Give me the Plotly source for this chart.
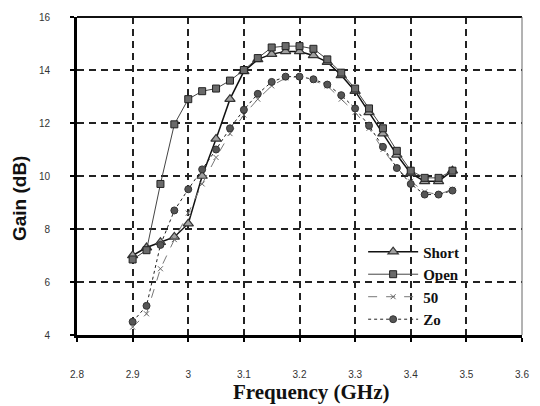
import plotly.graph_objects as go

freq = [2.9, 2.925, 2.95, 2.975, 3.0, 3.025, 3.05, 3.075, 3.1, 3.125, 3.15, 3.175,
        3.2, 3.225, 3.25, 3.275, 3.3, 3.325, 3.35, 3.375, 3.4, 3.425, 3.45, 3.475]

gain_short = [7.0, 7.3, 7.5, 7.7, 8.2, 10.0, 11.4, 12.9, 13.95, 14.4, 14.6, 14.7,
              14.7, 14.55, 14.3, 13.8, 13.2, 12.4, 11.6, 10.8, 10.1, 9.8, 9.8, 10.2]
gain_open = [6.85, 7.2, 9.7, 11.95, 12.9, 13.2, 13.3, 13.6, 14.0, 14.45, 14.85, 14.9,
             14.9, 14.8, 14.4, 13.9, 13.3, 12.55, 11.8, 10.95, 10.2, 9.93, 9.93, 10.2]
gain_50 = [4.3, 4.8, 6.5, 7.6, 8.6, 9.7, 10.7, 11.6, 12.3, 12.9, 13.4, 13.7,
           13.75, 13.6, 13.4, 12.9, 12.4, 11.8, 11.0, 10.3, 9.8, 9.4, 9.3, 9.5]
gain_zo = [4.5, 5.1, 7.4, 8.7, 9.5, 10.25, 11.0, 11.8, 12.5, 13.1, 13.55, 13.75,
           13.75, 13.65, 13.45, 13.05, 12.55, 11.9, 11.1, 10.3, 9.7, 9.3, 9.3, 9.45]

x_ticks = [2.8, 2.9, 3.0, 3.1, 3.2, 3.3, 3.4, 3.5, 3.6]
x_tick_labels = ["2.8", "2.9", "3", "3.1", "3.2", "3.3", "3.4", "3.5", "3.6"]
y_ticks = [4, 6, 8, 10, 12, 14, 16]
y_tick_labels = ["4", "6", "8", "10", "12", "14", "16"]

fig = go.Figure()
fig.add_trace(go.Scatter(
    x=freq, y=gain_short, name="<b>Short</b>", mode="lines+markers",
    line=dict(color="#111111", width=1.5),
    marker=dict(symbol="triangle-up", size=9, color="#a0a0a0",
                line=dict(color="#333333", width=1.2))))
fig.add_trace(go.Scatter(
    x=freq, y=gain_open, name="<b>Open</b>", mode="lines+markers",
    line=dict(color="#444444", width=1),
    marker=dict(symbol="square", size=7, color="#6a6a6a",
                line=dict(color="#222222", width=1))))
fig.add_trace(go.Scatter(
    x=freq, y=gain_50, name="<b>50</b>", mode="lines+markers",
    line=dict(color="#777777", width=1, dash="dash"),
    marker=dict(symbol="x-thin", size=5, color="#666666",
                line=dict(color="#666666", width=1))))
fig.add_trace(go.Scatter(
    x=freq, y=gain_zo, name="<b>Zo</b>", mode="lines+markers",
    line=dict(color="#222222", width=1, dash="dot"),
    marker=dict(symbol="circle", size=7, color="#555555",
                line=dict(color="#333333", width=1))))

fig.update_layout(
    width=540, height=406,
    margin=dict(l=77, r=11, t=12, b=71),
    paper_bgcolor="white", plot_bgcolor="white",
    font=dict(family="Arial", color="#222222"),
    showlegend=True,
    legend=dict(x=0.643, y=0.313, xanchor="left", yanchor="top",
                bgcolor="rgba(255,255,255,0)", borderwidth=0,
                font=dict(family="Liberation Serif", size=15, color="#111111"),
                tracegroupgap=0, itemwidth=50),
    xaxis=dict(range=[2.8, 3.6], tickvals=x_ticks, ticktext=x_tick_labels,
               showgrid=True, gridcolor="#222222", gridwidth=2, griddash="7px,5px",
               showline=True, linecolor="#000000", linewidth=3,
               ticks="outside", ticklen=4, tickwidth=2, tickcolor="#000000",
               ticklabelstandoff=24, ticklabeloverflow="allow",
               tickfont=dict(family="Arial", size=10, color="#333333"),
               zeroline=False),
    yaxis=dict(range=[4, 16], tickvals=y_ticks, ticktext=y_tick_labels,
               showgrid=True, gridcolor="#222222", gridwidth=2, griddash="7px,5px",
               showline=True, linecolor="#000000", linewidth=3,
               ticks="outside", ticklen=4, tickwidth=2, tickcolor="#000000",
               ticklabelstandoff=18, ticklabeloverflow="allow",
               tickfont=dict(family="Arial", size=10, color="#333333"),
               zeroline=False),
    annotations=[
        dict(text="<b>Frequency (GHz)</b>", xref="paper", yref="paper",
             x=(315 - 77) / 452, y=-(393 - 335) / 323, xanchor="center", yanchor="middle",
             showarrow=False,
             font=dict(family="Liberation Serif", size=21, color="#111111")),
        dict(text="<b>Gain (dB)</b>", xref="paper", yref="paper", textangle=-90,
             x=-(77 - 18) / 452, y=(335 - 196) / 323, xanchor="center", yanchor="middle",
             showarrow=False,
             font=dict(family="Arial", size=19, color="#111111")),
    ],
    shapes=[
        dict(type="line", xref="paper", yref="paper", x0=0, x1=1, y0=1, y1=1,
             line=dict(color="#111111", width=2)),
        dict(type="line", xref="paper", yref="paper", x0=1, x1=1, y0=0, y1=1,
             line=dict(color="#666666", width=1)),
    ],
)

fig.write_html("out.html",
               config={"displayModeBar": False},
               post_script="document.body.style.margin='0';document.body.style.overflow='hidden';")
